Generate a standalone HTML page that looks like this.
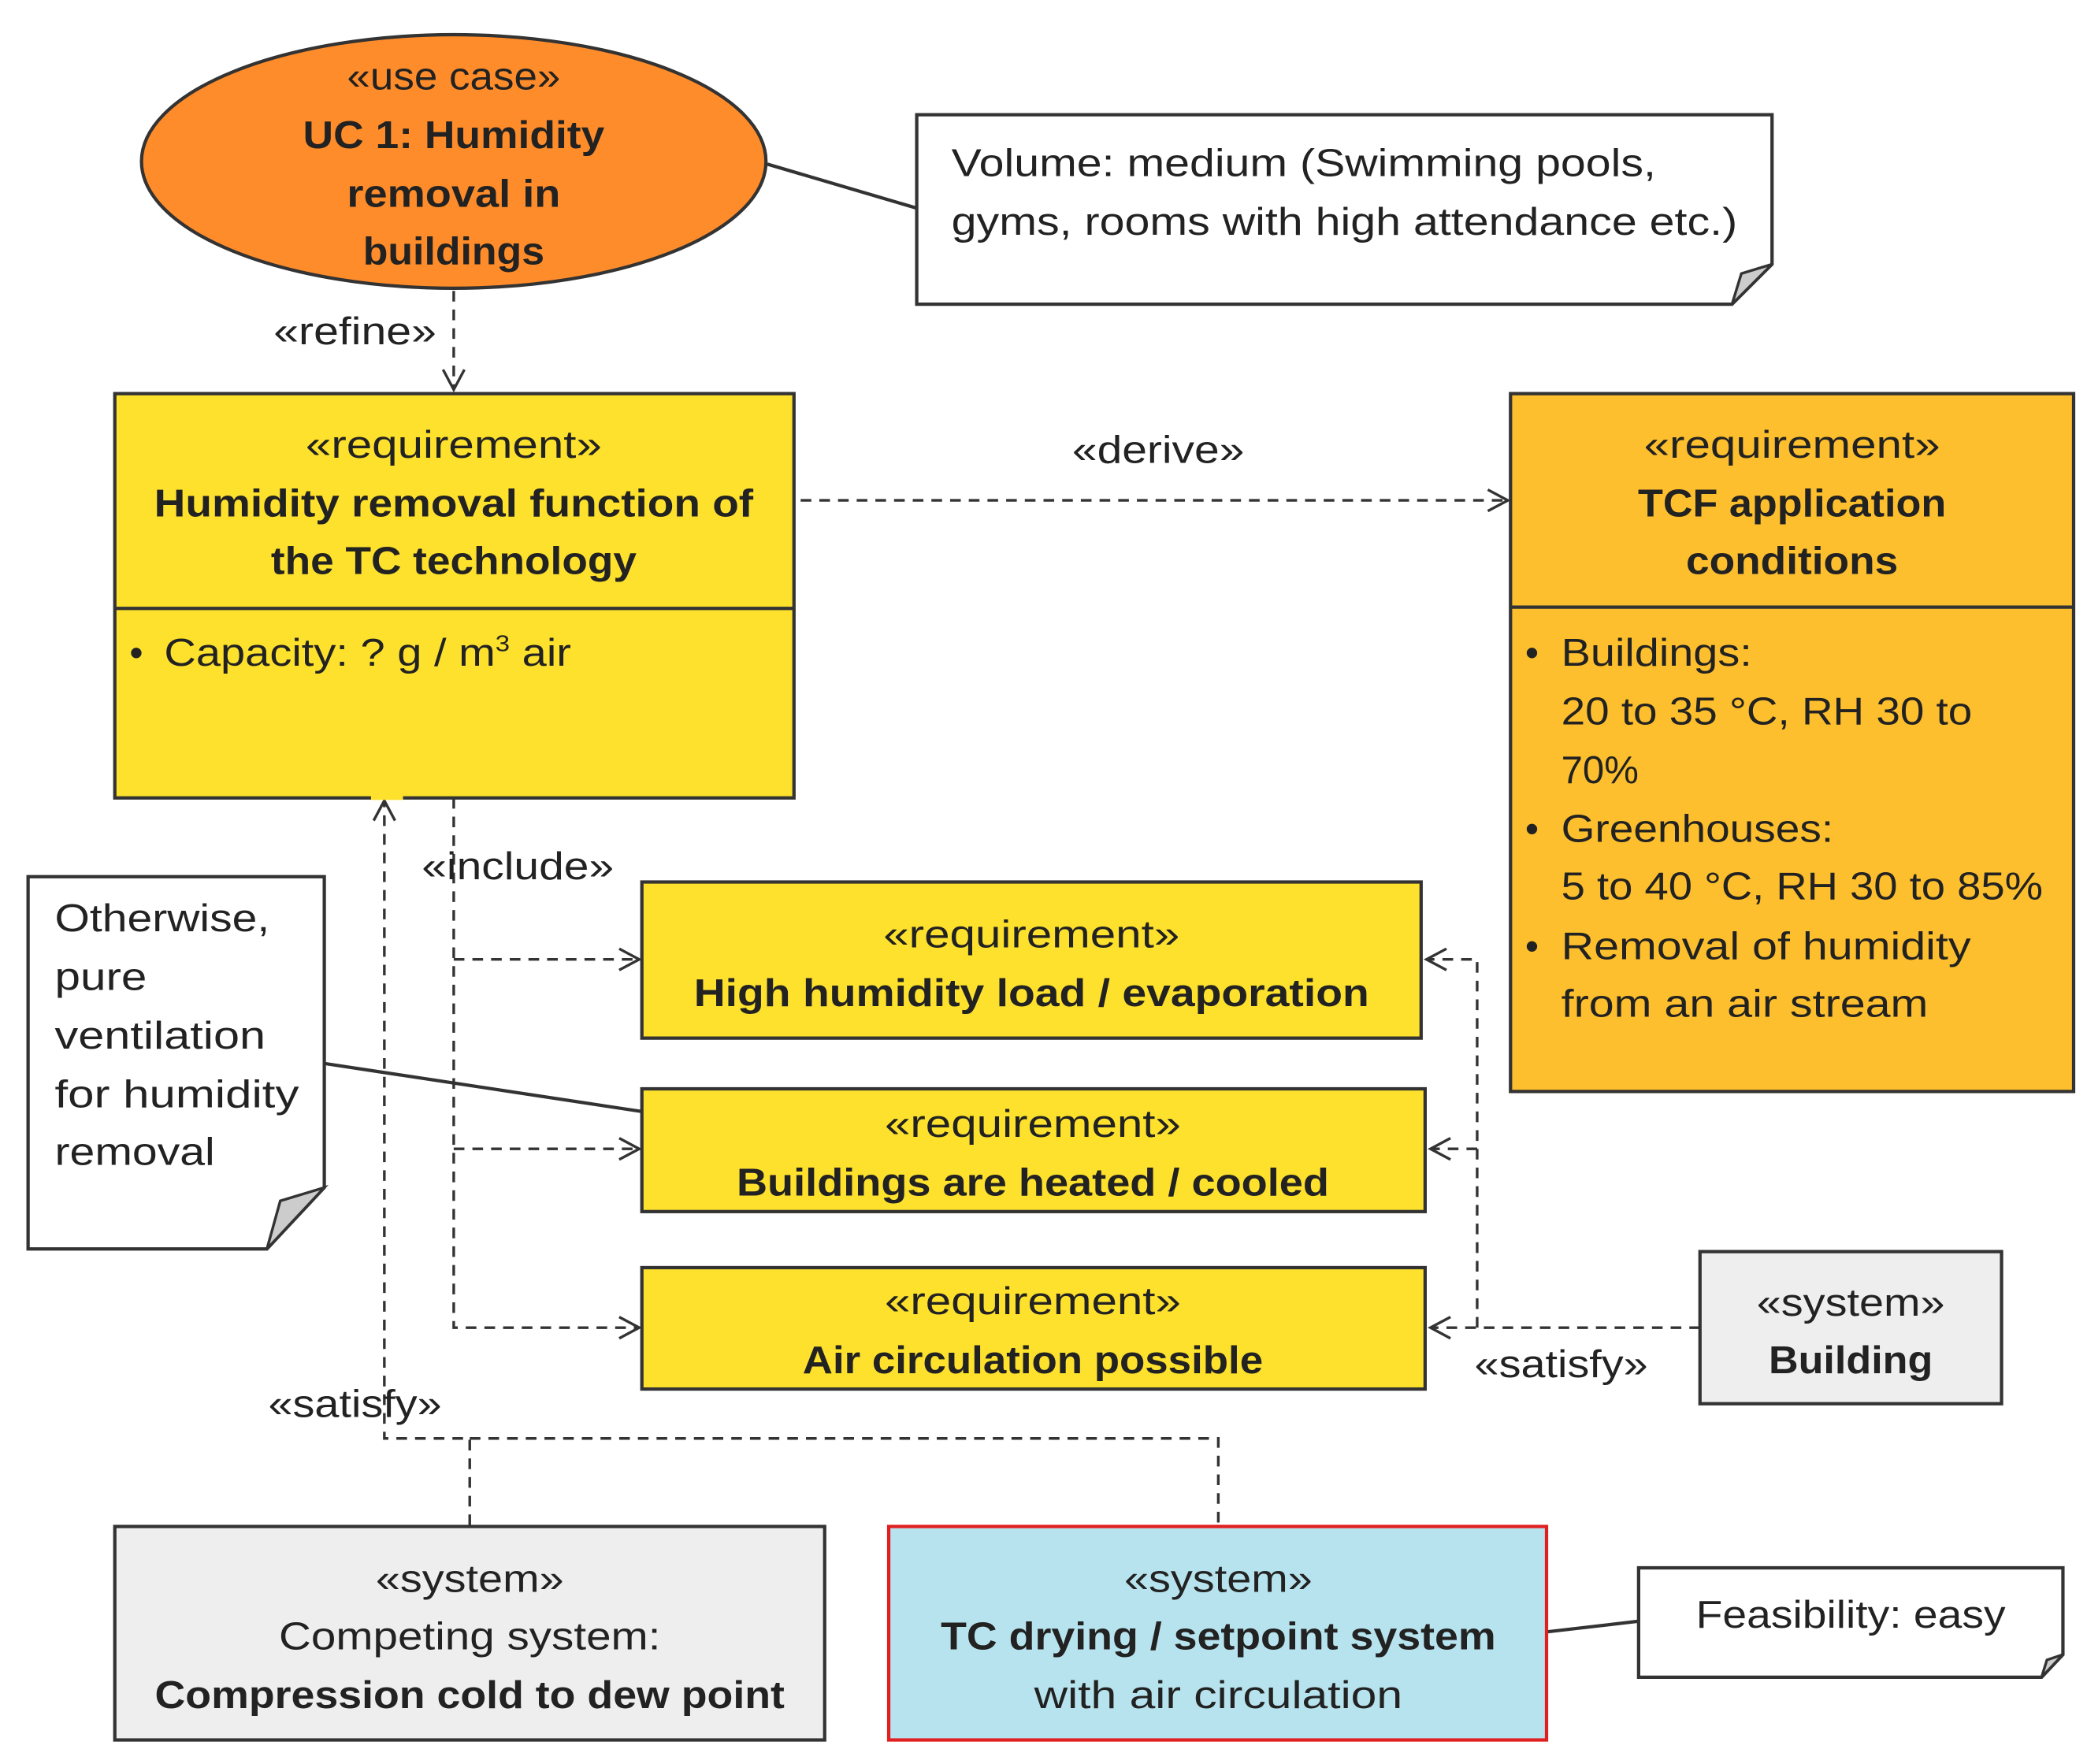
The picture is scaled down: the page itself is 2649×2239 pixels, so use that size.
<!DOCTYPE html>
<html><head><meta charset="utf-8"><style>html,body{margin:0;padding:0;background:#fff}svg{display:block}</style></head>
<body>
<svg xmlns="http://www.w3.org/2000/svg" width="2649" height="2239" viewBox="0 0 1564 1322" font-family="'Liberation Sans', sans-serif" font-size="29" fill="#222">
<defs>
<marker id="a" markerWidth="20" markerHeight="20" refX="17" refY="10" orient="auto" markerUnits="userSpaceOnUse"><path d="M2,2 L17,10 L2,18" fill="none" stroke="#333" stroke-width="2"/></marker>
</defs>
<g stroke="#333" stroke-width="2.5" fill="none">
<line x1="575" y1="123" x2="687" y2="156"/>
<line x1="243" y1="797" x2="481" y2="833"/>
<line x1="1159" y1="1223" x2="1228" y2="1215"/>
</g>
<g stroke="#333" stroke-width="2" fill="none" stroke-dasharray="8,6">
<line x1="340" y1="218" x2="340" y2="292" marker-end="url(#a)"/>
<line x1="600" y1="375" x2="1130" y2="375" marker-end="url(#a)"/>
<polyline points="340,598 340,995 479,995" marker-end="url(#a)"/>
<polyline points="340,719 479,719" marker-end="url(#a)"/>
<polyline points="340,861 479,861" marker-end="url(#a)"/>
<polyline points="1274,995 1072,995" marker-end="url(#a)"/>
<polyline points="1107,995 1107,719 1069,719" marker-end="url(#a)"/>
<polyline points="1107,861 1072,861" marker-end="url(#a)"/>
<polyline points="352,1143 352,1078 288,1078 288,600" marker-end="url(#a)"/>
<polyline points="352,1078 913,1078 913,1143"/>
</g>
<ellipse cx="340" cy="121" rx="234" ry="95" fill="#FF8C2A" stroke="#333" stroke-width="2.5"/>
<path d="M687,86 H1328 V198 L1298,228 H687 Z" fill="#fff" stroke="#333" stroke-width="2.5"/>
<path d="M1298,228 L1305,205 L1328,198 Z" fill="#ccc" stroke="#333" stroke-width="2"/>
<rect x="86" y="295" width="509" height="303" fill="#FDE12D" stroke="#333" stroke-width="2.5"/>
<line x1="86" y1="456" x2="595" y2="456" stroke="#333" stroke-width="2.5"/>
<rect x="1132" y="295" width="422" height="523" fill="#FDBF2D" stroke="#333" stroke-width="2.5"/>
<line x1="1132" y1="455" x2="1554" y2="455" stroke="#333" stroke-width="2.5"/>
<rect x="481" y="661" width="584" height="117" fill="#FDE12D" stroke="#333" stroke-width="2.5"/>
<rect x="481" y="816" width="587" height="92" fill="#FDE12D" stroke="#333" stroke-width="2.5"/>
<rect x="481" y="950" width="587" height="91" fill="#FDE12D" stroke="#333" stroke-width="2.5"/>
<path d="M21,657 H243 V890 L200,936 H21 Z" fill="#fff" stroke="#333" stroke-width="2.5"/>
<path d="M200,936 L210,900 L243,890 Z" fill="#ccc" stroke="#333" stroke-width="2"/>
<rect x="1274" y="938" width="226" height="114" fill="#EEEEEE" stroke="#333" stroke-width="2.5"/>
<rect x="86" y="1144" width="532" height="160" fill="#EEEEEE" stroke="#333" stroke-width="2.5"/>
<rect x="666" y="1144" width="493" height="160" fill="#B7E3EE" stroke="#E02020" stroke-width="2.5"/>
<path d="M1228,1175 H1546 V1240 L1530,1257 H1228 Z" fill="#fff" stroke="#333" stroke-width="2.5"/>
<path d="M1530,1257 L1534,1244 L1546,1240 Z" fill="#ccc" stroke="#333" stroke-width="2"/>
<line x1="278" y1="598" x2="302" y2="598" stroke="#FDE12D" stroke-width="3"/>
<g text-anchor="middle">
<text x="340" y="67" textLength="160" lengthAdjust="spacingAndGlyphs">«use case»</text>
<text x="340" y="111" font-weight="bold" textLength="226" lengthAdjust="spacingAndGlyphs">UC 1: Humidity</text>
<text x="340" y="155" font-weight="bold" textLength="160" lengthAdjust="spacingAndGlyphs">removal in</text>
<text x="340" y="198" font-weight="bold" textLength="136" lengthAdjust="spacingAndGlyphs">buildings</text>
<text x="266" y="258" textLength="122" lengthAdjust="spacingAndGlyphs">«refine»</text>
<text x="340" y="343" textLength="222" lengthAdjust="spacingAndGlyphs">«requirement»</text>
<text x="340" y="387" font-weight="bold" textLength="449" lengthAdjust="spacingAndGlyphs">Humidity removal function of</text>
<text x="340" y="430" font-weight="bold" textLength="274" lengthAdjust="spacingAndGlyphs">the TC technology</text>
<text x="868" y="347" textLength="129" lengthAdjust="spacingAndGlyphs">«derive»</text>
<text x="1343" y="343" textLength="222" lengthAdjust="spacingAndGlyphs">«requirement»</text>
<text x="1343" y="387" font-weight="bold" textLength="231" lengthAdjust="spacingAndGlyphs">TCF application</text>
<text x="1343" y="430" font-weight="bold" textLength="159" lengthAdjust="spacingAndGlyphs">conditions</text>
<text x="388" y="659" textLength="144" lengthAdjust="spacingAndGlyphs">«include»</text>
<text x="773" y="710" textLength="222" lengthAdjust="spacingAndGlyphs">«requirement»</text>
<text x="773" y="754" font-weight="bold" textLength="506" lengthAdjust="spacingAndGlyphs">High humidity load / evaporation</text>
<text x="774" y="852" textLength="222" lengthAdjust="spacingAndGlyphs">«requirement»</text>
<text x="774" y="896" font-weight="bold" textLength="444" lengthAdjust="spacingAndGlyphs">Buildings are heated / cooled</text>
<text x="774" y="985" textLength="222" lengthAdjust="spacingAndGlyphs">«requirement»</text>
<text x="774" y="1029" font-weight="bold" textLength="345" lengthAdjust="spacingAndGlyphs">Air circulation possible</text>
<text x="1387" y="986" textLength="141" lengthAdjust="spacingAndGlyphs">«system»</text>
<text x="1387" y="1029" font-weight="bold" textLength="123" lengthAdjust="spacingAndGlyphs">Building</text>
<text x="1170" y="1032" textLength="130" lengthAdjust="spacingAndGlyphs">«satisfy»</text>
<text x="266" y="1062" textLength="130" lengthAdjust="spacingAndGlyphs">«satisfy»</text>
<text x="352" y="1193" textLength="141" lengthAdjust="spacingAndGlyphs">«system»</text>
<text x="352" y="1236" textLength="286" lengthAdjust="spacingAndGlyphs">Competing system:</text>
<text x="352" y="1280" font-weight="bold" textLength="472" lengthAdjust="spacingAndGlyphs">Compression cold to dew point</text>
<text x="913" y="1193" textLength="141" lengthAdjust="spacingAndGlyphs">«system»</text>
<text x="913" y="1236" font-weight="bold" textLength="416" lengthAdjust="spacingAndGlyphs">TC drying / setpoint system</text>
<text x="913" y="1280" textLength="276" lengthAdjust="spacingAndGlyphs">with air circulation</text>
<text x="1387" y="1220" textLength="232" lengthAdjust="spacingAndGlyphs">Feasibility: easy</text>
</g>
<text x="713" y="132" textLength="528" lengthAdjust="spacingAndGlyphs">Volume: medium (Swimming pools,</text>
<text x="713" y="176" textLength="589" lengthAdjust="spacingAndGlyphs">gyms, rooms with high attendance etc.)</text>
<text x="97" y="499">•</text>
<text x="123" y="499" textLength="305" lengthAdjust="spacingAndGlyphs">Capacity: ? g / m<tspan font-size="17" dy="-11">3</tspan><tspan dy="11"> air</tspan></text>
<text x="1143" y="499">•</text><text x="1170" y="499" textLength="143" lengthAdjust="spacingAndGlyphs">Buildings:</text>
<text x="1170" y="543" textLength="308" lengthAdjust="spacingAndGlyphs">20 to 35 °C, RH 30 to</text>
<text x="1170" y="587" textLength="58" lengthAdjust="spacingAndGlyphs">70%</text>
<text x="1143" y="631">•</text><text x="1170" y="631" textLength="204" lengthAdjust="spacingAndGlyphs">Greenhouses:</text>
<text x="1170" y="674" textLength="361" lengthAdjust="spacingAndGlyphs">5 to 40 °C, RH 30 to 85%</text>
<text x="1143" y="719">•</text><text x="1170" y="719" textLength="307" lengthAdjust="spacingAndGlyphs">Removal of humidity</text>
<text x="1170" y="762" textLength="275" lengthAdjust="spacingAndGlyphs">from an air stream</text>
<text x="41" y="698" textLength="161" lengthAdjust="spacingAndGlyphs">Otherwise,</text>
<text x="41" y="742" textLength="69" lengthAdjust="spacingAndGlyphs">pure</text>
<text x="41" y="786" textLength="158" lengthAdjust="spacingAndGlyphs">ventilation</text>
<text x="41" y="830" textLength="183" lengthAdjust="spacingAndGlyphs">for humidity</text>
<text x="41" y="873" textLength="120" lengthAdjust="spacingAndGlyphs">removal</text>
</svg>
</body></html>
